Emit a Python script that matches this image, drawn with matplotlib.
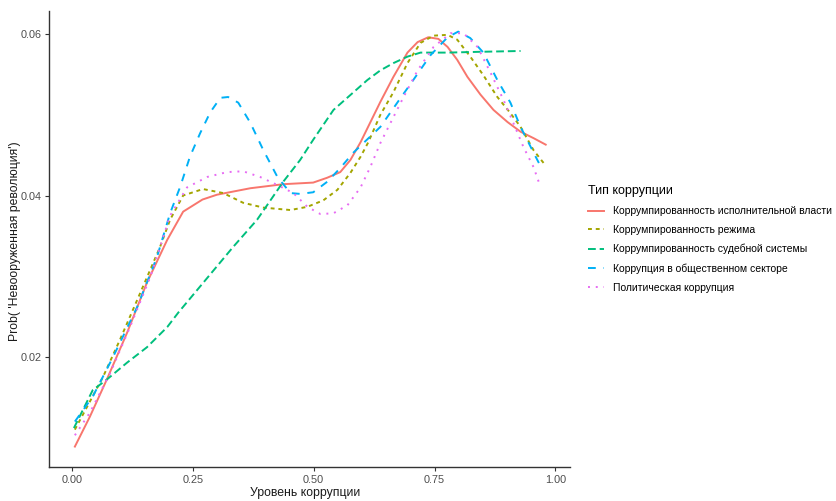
import matplotlib
matplotlib.use("Agg")
import matplotlib.pyplot as plt

plt.rcParams['font.family'] = ['Liberation Sans', 'DejaVu Sans']

# ==============================
# DATA
# ==============================
series_names = [
    "Коррумпированность исполнительной власти",
    "Коррумпированность режима",
    "Коррумпированность судебной системы",
    "Коррупция в общественном секторе",
    "Политическая коррупция",
]

exec_x = [0.006, 0.037, 0.072, 0.114, 0.155, 0.197, 0.230, 0.270, 0.300, 0.369, 0.437,
          0.499, 0.528, 0.555, 0.576, 0.597, 0.638, 0.665, 0.694, 0.715, 0.737, 0.758,
          0.777, 0.797, 0.818, 0.845, 0.872, 0.901, 0.928, 0.955, 0.980]
exec_y = [0.0089, 0.0126, 0.0172, 0.0230, 0.0292, 0.0345, 0.0380, 0.0395, 0.0401, 0.0409,
          0.0414, 0.0416, 0.0422, 0.0429, 0.0444, 0.0466, 0.0516, 0.0547, 0.0577, 0.0590,
          0.0596, 0.0594, 0.0584, 0.0568, 0.0547, 0.0525, 0.0506, 0.0491, 0.0479, 0.0471,
          0.0463]

regime_x = [0.006, 0.031, 0.064, 0.099, 0.141, 0.182, 0.203, 0.230, 0.271, 0.313, 0.354,
            0.396, 0.452, 0.487, 0.520, 0.549, 0.576, 0.597, 0.613, 0.638, 0.665, 0.694,
            0.721, 0.748, 0.777, 0.797, 0.824, 0.851, 0.880, 0.907, 0.928, 0.955, 0.976]
regime_y = [0.0110, 0.0138, 0.0175, 0.0221, 0.0279, 0.0336, 0.0370, 0.0400, 0.0408, 0.0403,
            0.0391, 0.0385, 0.0382, 0.0386, 0.0394, 0.0407, 0.0428, 0.0448, 0.0466, 0.0500,
            0.0528, 0.0564, 0.0589, 0.0598, 0.0599, 0.0593, 0.0572, 0.0549, 0.0522, 0.0502,
            0.0485, 0.0456, 0.0440]

judicial_x = [0.004, 0.043, 0.072, 0.114, 0.155, 0.197, 0.220, 0.333, 0.383, 0.437, 0.472,
              0.499, 0.541, 0.611, 0.638, 0.665, 0.694, 0.721, 0.777, 0.845, 0.928]
judicial_y = [0.0112, 0.0159, 0.0172, 0.0193, 0.0212, 0.0237, 0.0255, 0.0336, 0.0370,
              0.0417, 0.0444, 0.0469, 0.0506, 0.0543, 0.0555, 0.0564, 0.0572, 0.0577,
              0.0577, 0.0578, 0.0579]

public_x = [0.006, 0.043, 0.085, 0.135, 0.176, 0.203, 0.224, 0.244, 0.265, 0.286, 0.307,
            0.323, 0.344, 0.369, 0.396, 0.425, 0.452, 0.472, 0.499, 0.528, 0.555, 0.582,
            0.638, 0.673, 0.706, 0.742, 0.777, 0.799, 0.824, 0.851, 0.880, 0.907, 0.928,
            0.955, 0.973]
public_y = [0.0120, 0.0151, 0.0200, 0.0262, 0.0324, 0.0378, 0.0411, 0.0448, 0.0477, 0.0503,
            0.0521, 0.0522, 0.0515, 0.0490, 0.0456, 0.0423, 0.0403, 0.0402, 0.0404, 0.0417,
            0.0434, 0.0453, 0.0485, 0.0515, 0.0543, 0.0574, 0.0596, 0.0603, 0.0595, 0.0577,
            0.0543, 0.0515, 0.0485, 0.0453, 0.0432]

political_x = [0.006, 0.037, 0.079, 0.120, 0.162, 0.203, 0.238, 0.280, 0.321, 0.354, 0.389,
               0.425, 0.458, 0.487, 0.514, 0.541, 0.570, 0.597, 0.617, 0.638, 0.659, 0.686,
               0.715, 0.748, 0.783, 0.810, 0.839, 0.866, 0.893, 0.913, 0.934, 0.955, 0.969]
political_y = [0.0103, 0.0131, 0.0180, 0.0237, 0.0299, 0.0375, 0.0410, 0.0423, 0.0429,
               0.0430, 0.0423, 0.0413, 0.0403, 0.0386, 0.0377, 0.0378, 0.0388, 0.0410,
               0.0435, 0.0465, 0.0490, 0.0522, 0.0555, 0.0584, 0.0601, 0.0601, 0.0584,
               0.0552, 0.0518, 0.0490, 0.0460, 0.0435, 0.0411]

x_ticks = [0.0, 0.25, 0.5, 0.75, 1.0]
x_tick_labels = ["0.00", "0.25", "0.50", "0.75", "1.00"]
y_ticks = [0.02, 0.04, 0.06]
y_tick_labels = ["0.02", "0.04", "0.06"]

# ==============================
# STYLE
# ==============================
colors = ["#F8766D", "#A3A500", "#00BF7D", "#00B0F6", "#E76BF3"]
dash_styles = ["-", (0, (2, 2)), (0, (4, 2)), (0, (4, 4)), (0, (1, 3))]

fig = plt.figure(figsize=(8.37, 5.01), dpi=100)
ax = fig.add_axes([0.0585, 0.068, 0.622, 0.910])

all_x = [exec_x, regime_x, judicial_x, public_x, political_x]
all_y = [exec_y, regime_y, judicial_y, public_y, political_y]

for xs, ys, name, c, ls in zip(all_x, all_y, series_names, colors, dash_styles):
    ax.plot(xs, ys, color=c, linestyle=ls, linewidth=1.4, label=name)

ax.set_xlim(-0.0476, 1.0294)
ax.set_ylim(0.00638, 0.06285)
ax.set_xticks(x_ticks)
ax.set_xticklabels(x_tick_labels)
ax.set_yticks(y_ticks)
ax.set_yticklabels(y_tick_labels)

for side in ["top", "right"]:
    ax.spines[side].set_visible(False)
for side in ["left", "bottom"]:
    ax.spines[side].set_linewidth(1.0)
    ax.spines[side].set_color("#333333")

ax.tick_params(axis="both", colors="#333333", labelcolor="#4D4D4D",
               labelsize=7.8, length=3, width=0.8, pad=2.5)

# axis titles placed in figure coords so they sit where the reference has them
fig.text(305 / 837, 1 - 493 / 501, "Уровень коррупции", fontsize=8.8,
         color="#1a1a1a", ha="center", va="center")
fig.text(15 / 837, 1 - 241 / 501, "Prob( 'Невооруженная революция')", fontsize=8.8,
         color="#1a1a1a", ha="center", va="center", rotation=90)

leg = ax.legend(loc="upper left", bbox_to_anchor=(0.702, 0.630),
                bbox_transform=fig.transFigure, frameon=False,
                title="Тип коррупции", fontsize=7.5, title_fontsize=9,
                handlelength=1.6, handletextpad=0.8, labelspacing=0.85,
                borderaxespad=0, borderpad=0)
leg._legend_box.align = "left"

plt.savefig("out.png", dpi=100)
